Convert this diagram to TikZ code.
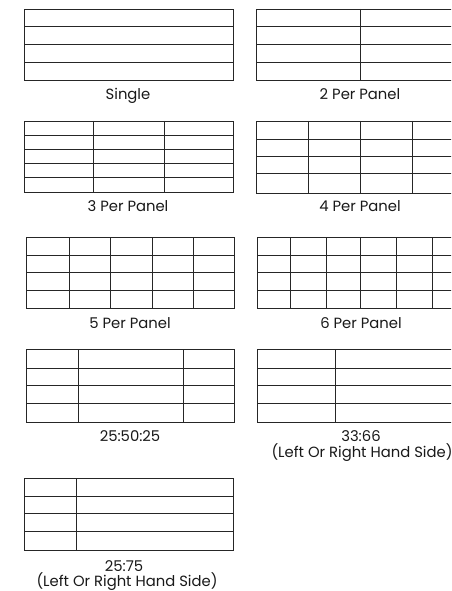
\documentclass[tikz,border=0pt]{standalone}
\usepackage{fontspec}
\setmainfont{Poppins}
\begin{document}
\begin{tikzpicture}[x=1pt,y=-1pt,
  grid/.style={draw=black!85,line width=0.8pt},
  lab/.style={font=\fontsize{14.8}{17}\selectfont,text=black!90,inner sep=0pt,anchor=base}]
\useasboundingbox[fill=white] (0,0) rectangle (451,591);
\begin{scope}
\clip (0,0) rectangle (451,591);
% Single
\draw[grid] (24,9) rectangle (233,80);
\foreach \y in {26.75,44.5,62.25} \draw[grid] (24,\y) -- (233,\y);
% 2 per panel
\draw[grid] (256,9) rectangle (465,80);
\foreach \y in {26.75,44.5,62.25} \draw[grid] (256,\y) -- (465,\y);
\draw[grid] (360,9) -- (360,80);
% 3 per panel
\draw[grid] (24,121) rectangle (233,192);
\foreach \y in {135.2,149.4,163.6,177.8} \draw[grid] (24,\y) -- (233,\y);
\foreach \x in {93.7,164.7} \draw[grid] (\x,121) -- (\x,192);
% 4 per panel
\draw[grid] (256,121) rectangle (465,193);
\foreach \y in {139,156.3,173.7} \draw[grid] (256,\y) -- (465,\y);
\foreach \x in {308,360,412.3} \draw[grid] (\x,121) -- (\x,193);
% 5 per panel
\draw[grid] (26,237) rectangle (234,308);
\foreach \y in {255,272.7,290.5} \draw[grid] (26,\y) -- (234,\y);
\foreach \x in {69.3,110.3,152,193.3} \draw[grid] (\x,237) -- (\x,308);
% 6 per panel
\draw[grid] (257,237) rectangle (468,308);
\foreach \y in {255,272.7,290.5} \draw[grid] (257,\y) -- (468,\y);
\foreach \x in {290.7,326,360.7,396.3,432.3} \draw[grid] (\x,237) -- (\x,308);
% 25:50:25
\draw[grid] (26,349) rectangle (234,422);
\foreach \y in {368,385.7,403.3} \draw[grid] (26,\y) -- (234,\y);
\foreach \x in {78,183.3} \draw[grid] (\x,349) -- (\x,422);
% 33:66
\draw[grid] (257,349) rectangle (466,422);
\foreach \y in {368,385.7,403.3} \draw[grid] (257,\y) -- (466,\y);
\draw[grid] (335.7,349) -- (335.7,422);
% 25:75
\draw[grid] (24,478) rectangle (233,550);
\foreach \y in {496.3,513.7,531.7} \draw[grid] (24,\y) -- (233,\y);
\draw[grid] (76.3,478) -- (76.3,550);
% labels
\node[lab] (l1) at (128,99.5) {Single};
\node[lab] (l2) at (360,100) {2 Per Panel};
\node[lab] (l3) at (128,211) {3 Per Panel};
\node[lab] (l4) at (360,211.5) {4 Per Panel};
\node[lab] (l5) at (130,328) {5 Per Panel};
\node[lab] (l6) at (361,328) {6 Per Panel};
\node[lab] (l7) at (130,441) {25:50:25};
\node[lab] (l8) at (361,441) {33:66};
\node[lab] (l8b) at (362,457.5) {(Left Or Right Hand Side)};
\node[lab] (l9) at (124,571) {25:75};
\node[lab] (l9b) at (127,586) {(Left Or Right Hand Side)};
\end{scope}
\end{tikzpicture}
\end{document}
